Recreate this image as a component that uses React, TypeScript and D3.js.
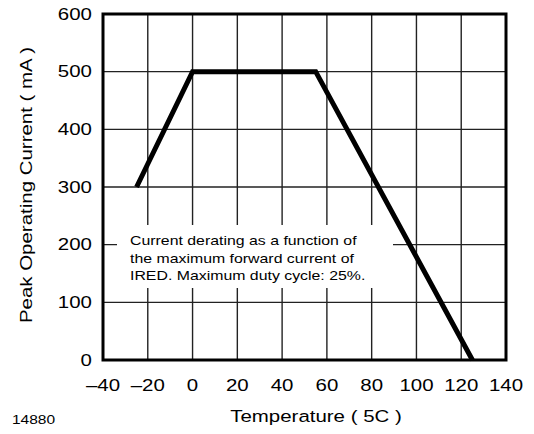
import * as d3 from 'd3';

const xTicks = [-40, -20, 0, 20, 40, 60, 80, 100, 120, 140];
const yTicks = [0, 100, 200, 300, 400, 500, 600];
const temps = [-25, 0, 55, 125];
const currents = [300, 500, 500, 0];
const noteLines = [
    'Current derating as a function of',
    'the maximum forward current of',
    'IRED. Maximum duty cycle: 25%.',
];

const W = 534;
const H = 434;
const margin = { left: 103, top: 14, right: 28, bottom: 74 };
const font = '"Liberation Sans", Arial, Helvetica, sans-serif';
// the original lettering is a wide Helvetica, so stretch it a bit
const sx = 1.24;

function Label(props: { x: number, y: number, size: number, anchor?: string, rotate?: number, children: any, dy?: string, stretch?: number }) {
    const rot = props.rotate ? ` rotate(${props.rotate})` : '';
    return <text
        transform={`translate(${props.x},${props.y})${rot} scale(${props.stretch ?? sx},1)`}
        textAnchor={props.anchor ?? 'start'}
        dy={props.dy}
        fontSize={props.size}
        fill="#000">{props.children}</text>
}

export default function App() {
    const x = d3.scaleLinear().domain([-40, 140]).range([margin.left, W - margin.right]);
    const y = d3.scaleLinear().domain([0, 600]).range([H - margin.bottom, margin.top]);
    const line = d3.line<number>()
        .x((_, i) => x(temps[i]))
        .y(d => y(d));

    const fmt = (v: number) => (v < 0 ? '\u2013' + Math.abs(v) : String(v));

    return (
        <svg width={W} height={H} style={{ position: 'absolute', left: 0, top: 0 }} fontFamily={font}>
            <rect width={W} height={H} fill="#fff" />
            {xTicks.slice(1, -1).map(t => (
                <line key={'gx' + t} x1={x(t)} x2={x(t)} y1={y(600)} y2={y(0)} stroke="#222" strokeWidth={1.4} />
            ))}
            {yTicks.slice(1, -1).map(t => (
                <line key={'gy' + t} x1={x(-40)} x2={x(140)} y1={y(t)} y2={y(t)} stroke="#222" strokeWidth={1.4} />
            ))}
            <rect x={117} y={225} width={276} height={63} fill="#fff" />
            {noteLines.map((s, i) => (
                <Label key={i} x={130} y={245 + i * 17.5} size={13} stretch={1.22}>{s}</Label>
            ))}
            <path d={line(currents) ?? ''} fill="none" stroke="#000" strokeWidth={5} strokeLinejoin="miter" />
            <rect x={x(-40)} y={y(600)} width={x(140) - x(-40)} height={y(0) - y(600)} fill="none" stroke="#000" strokeWidth={3} />
            {yTicks.map(t => (
                <Label key={'ly' + t} x={92} y={y(t)} dy="0.35em" anchor="end" size={16.5}>{t}</Label>
            ))}
            {xTicks.map(t => (
                <Label key={'lx' + t} x={x(t)} y={391} anchor="middle" size={16.5}>{fmt(t)}</Label>
            ))}
            <Label x={316} y={422} anchor="middle" size={16.5}>Temperature ( 5C )</Label>
            <Label x={32} y={185} anchor="middle" rotate={-90} size={16.5}>Peak Operating Current ( mA )</Label>
            <Label x={12} y={424} size={13.5} stretch={1.15}>14880</Label>
        </svg>
    );
}
